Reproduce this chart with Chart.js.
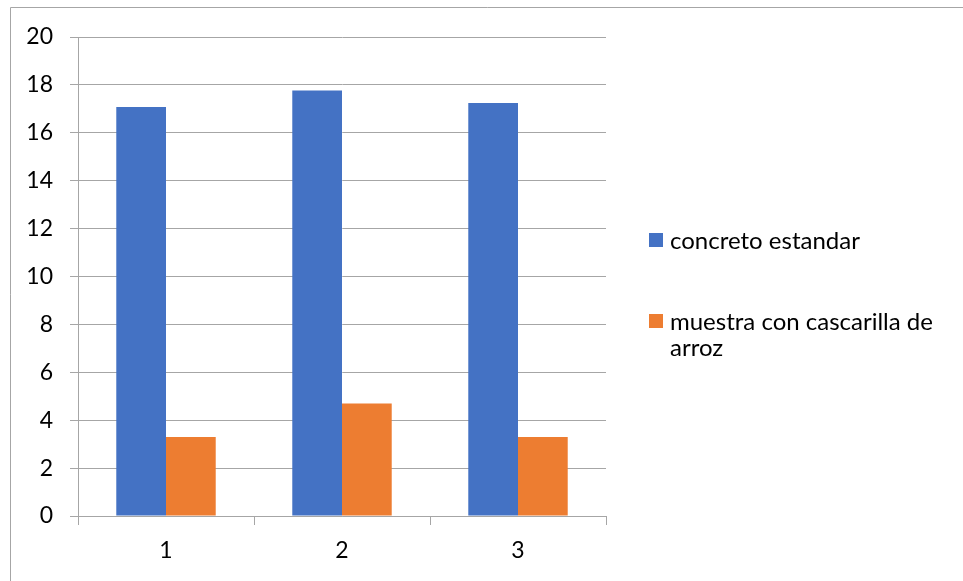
<!DOCTYPE html>
<html>
<head>
<meta charset="utf-8">
<script src="https://cdn.jsdelivr.net/npm/chart.js@4"></script>
<style>
  html, body { margin: 0; padding: 0; background: #ffffff; }
  #wrap { width: 963px; height: 581px; position: relative; }
</style>
</head>
<body>
<div id="wrap"><canvas id="chart" width="963" height="581"></canvas></div>
<script>
// Categories (sample number) and series values
const categories = ['1', '2', '3'];
const concretoEstandar = [17.08, 17.77, 17.24];
const muestraCascarilla = [3.3, 4.7, 3.3];
const seriesNames = ['concreto estandar', 'muestra con cascarilla de arroz'];
const yTicks = [0, 2, 4, 6, 8, 10, 12, 14, 16, 18, 20];

const FONT = 'Lato, "Noto Sans", sans-serif';
const GRID = '#a6a6a6';

// Outer frame of the chart object
const framePlugin = {
  id: 'frame',
  beforeDraw(chart) {
    const ctx = chart.ctx;
    ctx.save();
    ctx.strokeStyle = '#a6a6a6';
    ctx.lineWidth = 1;
    ctx.beginPath();
    ctx.moveTo(10.5, chart.height + 2);
    ctx.lineTo(10.5, 7.5);
    ctx.lineTo(chart.width + 2, 7.5);
    ctx.stroke();
    ctx.restore();
  }
};

// Legend at the right, with word wrapping for long names
const sideLegend = {
  id: 'sideLegend',
  afterDraw(chart) {
    const ctx = chart.ctx;
    const x0 = 649, textX = 670, maxW = 285, lineH = 26;
    const rows = [240, 321];
    ctx.save();
    ctx.font = '24px ' + FONT;
    ctx.textBaseline = 'middle';
    chart.data.datasets.forEach((ds, i) => {
      const cy = rows[i];
      ctx.fillStyle = ds.backgroundColor;
      ctx.fillRect(x0, cy - 7, 14, 14);
      // wrap text into lines
      const words = ds.label.split(' ');
      const lines = [];
      let cur = '';
      words.forEach(w => {
        const t = cur ? cur + ' ' + w : w;
        if (ctx.measureText(t).width > maxW && cur) { lines.push(cur); cur = w; }
        else cur = t;
      });
      if (cur) lines.push(cur);
      ctx.fillStyle = '#000000';
      lines.forEach((ln, k) => ctx.fillText(ln, textX, cy + 1 + k * lineH));
    });
    ctx.restore();
  }
};

new Chart(document.getElementById('chart'), {
  type: 'bar',
  data: {
    labels: categories,
    datasets: [
      { label: seriesNames[0], data: concretoEstandar, backgroundColor: '#4472C4' },
      { label: seriesNames[1], data: muestraCascarilla, backgroundColor: '#ED7D31' }
    ]
  },
  options: {
    responsive: false,
    devicePixelRatio: 1,
    animation: false,
    categoryPercentage: 0.565,
    barPercentage: 1.0,
    layout: { padding: { left: 10, top: 37, right: 357, bottom: 0 } },
    plugins: {
      legend: { display: false },
      tooltip: { enabled: false }
    },
    scales: {
      x: {
        afterFit(scale) { scale.height = 65; },
        grid: { drawOnChartArea: false, offset: true, tickLength: 9, color: GRID },
        border: { display: true, color: GRID },
        ticks: { padding: 12, color: '#000000', font: { family: FONT, size: 23 } }
      },
      y: {
        min: 0,
        max: 20,
        afterFit(scale) { scale.width = 68; },
        afterBuildTicks(scale) { scale.ticks = yTicks.map(v => ({ value: v })); },
        grid: { color: GRID, tickLength: 8 },
        border: { display: true, color: GRID },
        ticks: { padding: 17, color: '#000000', font: { family: FONT, size: 23 } }
      }
    }
  },
  plugins: [framePlugin, sideLegend]
});
</script>
</body>
</html>
